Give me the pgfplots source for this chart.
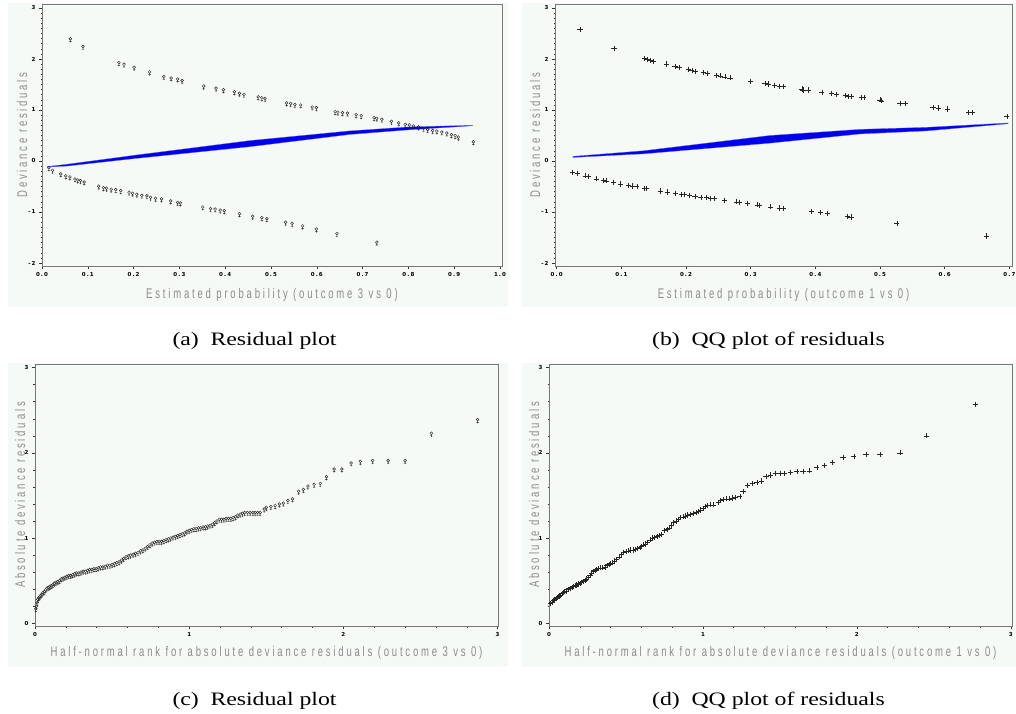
\documentclass[border=0pt]{standalone}
\usepackage{pgfplots}
\pgfplotsset{compat=1.18}
\usepackage{fontspec}
\setmainfont{Liberation Serif}
\newfontfamily\labfont[FakeStretch=0.68,LetterSpace=20]{Liberation Sans}
\newfontfamily\tickfont[LetterSpace=20]{DejaVu Sans}
\newfontfamily\capfont[FakeStretch=1.25]{Liberation Serif}
\definecolor{panelbg}{RGB}{245,250,246}
\definecolor{labgray}{RGB}{140,140,140}
\definecolor{framegray}{RGB}{120,120,120}
\definecolor{bandblue}{RGB}{0,0,235}

\pgfdeclareplotmark{venus}{%
  \pgfpathcircle{\pgfqpoint{0pt}{0.9pt}}{1.4pt}%
  \pgfpathmoveto{\pgfqpoint{0pt}{-0.5pt}}\pgfpathlineto{\pgfqpoint{0pt}{-2.8pt}}%
  \pgfpathmoveto{\pgfqpoint{-1.2pt}{-1.8pt}}\pgfpathlineto{\pgfqpoint{1.2pt}{-1.8pt}}%
  \pgfusepathqstroke}

\pgfplotsset{sasaxis/.style={
  scale only axis, anchor=south west,
  axis line style={framegray, line width=0.6pt},
  tick align=outside, tick pos=left,
  major tick length=3pt, minor tick length=1.5pt,
  every tick/.style={black!80, line width=0.5pt},
  tick label style={font=\tickfont\fontsize{5.5}{6}\selectfont\bfseries, black},
  label style={font=\labfont\fontsize{14}{16}\selectfont, labgray},
  xlabel style={at={(axis description cs:0.5,0)}, anchor=center},
  ylabel style={at={(axis description cs:0,0.5)}, anchor=center},
}}

\pgfplotstableread{
x y
0.062 2.38
0.0895 2.23
0.168 1.91
0.179 1.88
0.201 1.82
0.235 1.73
0.266 1.64
0.282 1.61
0.296 1.59
0.306 1.56
0.353 1.45
0.380 1.41
0.396 1.38
0.420 1.34
0.431 1.31
0.441 1.29
0.472 1.24
0.480 1.22
0.487 1.21
0.534 1.12
0.543 1.11
0.552 1.09
0.565 1.08
0.590 1.04
0.599 1.03
0.640 0.95
0.646 0.94
0.656 0.93
0.667 0.92
0.686 0.89
0.697 0.87
0.725 0.83
0.731 0.82
0.742 0.80
0.763 0.76
0.779 0.73
0.793 0.70
0.802 0.69
0.811 0.67
0.822 0.65
0.833 0.62
0.842 0.60
0.853 0.58
0.862 0.57
0.873 0.55
0.884 0.53
0.894 0.50
0.902 0.48
0.909 0.45
0.942 0.36
0.015 -0.15
0.023 -0.20
0.041 -0.27
0.052 -0.31
0.061 -0.33
0.072 -0.37
0.078 -0.39
0.084 -0.40
0.092 -0.43
0.124 -0.51
0.134 -0.54
0.141 -0.55
0.151 -0.57
0.161 -0.58
0.172 -0.60
0.190 -0.63
0.198 -0.65
0.207 -0.67
0.218 -0.69
0.229 -0.70
0.237 -0.73
0.248 -0.75
0.261 -0.76
0.281 -0.80
0.296 -0.83
0.302 -0.84
0.351 -0.92
0.368 -0.95
0.378 -0.96
0.389 -0.98
0.398 -0.99
0.431 -1.05
0.460 -1.10
0.480 -1.13
0.491 -1.15
0.532 -1.22
0.546 -1.24
0.569 -1.29
0.599 -1.35
0.644 -1.44
0.731 -1.61
}\resA

\pgfplotstableread{
x y
0.036 2.58
0.0886 2.21
0.136 2.01
0.140 1.99
0.145 1.97
0.150 1.95
0.170 1.90
0.183 1.86
0.189 1.84
0.204 1.80
0.209 1.78
0.214 1.76
0.227 1.73
0.233 1.72
0.247 1.68
0.253 1.67
0.260 1.65
0.268 1.63
0.300 1.56
0.322 1.52
0.327 1.51
0.337 1.48
0.344 1.46
0.350 1.46
0.379 1.41
0.381 1.39
0.389 1.39
0.410 1.35
0.425 1.32
0.433 1.31
0.446 1.28
0.451 1.27
0.456 1.27
0.471 1.24
0.475 1.24
0.500 1.20
0.502 1.18
0.531 1.13
0.539 1.13
0.582 1.05
0.590 1.04
0.604 1.02
0.637 0.95
0.643 0.95
0.696 0.87
0.024 -0.22
0.032 -0.24
0.044 -0.29
0.049 -0.30
0.061 -0.35
0.072 -0.38
0.077 -0.39
0.088 -0.42
0.099 -0.45
0.111 -0.48
0.117 -0.49
0.124 -0.50
0.136 -0.54
0.139 -0.54
0.160 -0.59
0.171 -0.61
0.184 -0.63
0.193 -0.65
0.198 -0.66
0.205 -0.67
0.214 -0.69
0.223 -0.71
0.232 -0.72
0.238 -0.73
0.244 -0.74
0.259 -0.77
0.278 -0.80
0.283 -0.81
0.295 -0.83
0.310 -0.86
0.314 -0.87
0.331 -0.90
0.344 -0.92
0.350 -0.93
0.394 -0.99
0.408 -1.01
0.419 -1.03
0.450 -1.09
0.455 -1.10
0.526 -1.22
0.665 -1.47
}\resB

\pgfplotstableread{
x y
0.005 0.16
0.010 0.19
0.014 0.23
0.018 0.27
0.024 0.29
0.031 0.30
0.038 0.32
0.045 0.33
0.052 0.35
0.060 0.36
0.068 0.38
0.077 0.40
0.086 0.41
0.095 0.42
0.105 0.43
0.115 0.44
0.125 0.46
0.136 0.47
0.147 0.48
0.158 0.49
0.170 0.51
0.182 0.52
0.194 0.53
0.206 0.54
0.218 0.55
0.231 0.55
0.244 0.56
0.257 0.57
0.270 0.58
0.284 0.58
0.298 0.59
0.312 0.60
0.326 0.60
0.340 0.61
0.354 0.62
0.368 0.62
0.382 0.63
0.396 0.63
0.410 0.64
0.425 0.65
0.440 0.65
0.455 0.66
0.470 0.67
0.485 0.67
0.500 0.68
0.515 0.69
0.530 0.70
0.545 0.71
0.560 0.73
0.575 0.75
0.590 0.77
0.605 0.78
0.620 0.79
0.636 0.80
0.652 0.81
0.668 0.82
0.684 0.84
0.700 0.85
0.715 0.87
0.730 0.89
0.745 0.91
0.760 0.93
0.775 0.94
0.790 0.95
0.805 0.95
0.820 0.95
0.835 0.96
0.850 0.97
0.865 0.98
0.880 0.99
0.895 1.00
0.910 1.01
0.925 1.02
0.940 1.03
0.955 1.04
0.970 1.05
0.985 1.07
1.000 1.08
1.015 1.09
1.030 1.10
1.045 1.10
1.060 1.11
1.075 1.11
1.090 1.12
1.105 1.12
1.120 1.13
1.135 1.14
1.150 1.15
1.165 1.17
1.180 1.19
1.195 1.21
1.210 1.21
1.225 1.21
1.240 1.22
1.255 1.22
1.270 1.22
1.285 1.23
1.300 1.24
1.315 1.26
1.330 1.27
1.345 1.28
1.360 1.29
1.378 1.29
1.395 1.29
1.413 1.29
1.428 1.29
1.443 1.29
1.460 1.29
1.486 1.33
1.500 1.35
1.530 1.36
1.557 1.37
1.585 1.39
1.610 1.40
1.640 1.43
1.670 1.45
1.710 1.54
1.740 1.56
1.770 1.60
1.810 1.62
1.850 1.63
1.890 1.71
1.940 1.80
1.990 1.80
2.050 1.87
2.110 1.89
2.190 1.90
2.290 1.90
2.400 1.90
2.570 2.22
2.870 2.38
}\resC

\pgfplotstableread{
x y
0.011 0.23
0.020 0.25
0.028 0.27
0.036 0.28
0.045 0.29
0.052 0.30
0.060 0.31
0.068 0.32
0.075 0.33
0.084 0.35
0.093 0.36
0.102 0.37
0.110 0.38
0.123 0.40
0.136 0.41
0.148 0.42
0.160 0.43
0.170 0.44
0.180 0.45
0.190 0.46
0.200 0.47
0.212 0.48
0.223 0.49
0.234 0.50
0.245 0.52
0.256 0.54
0.266 0.56
0.277 0.59
0.288 0.61
0.299 0.62
0.310 0.63
0.320 0.64
0.330 0.65
0.347 0.65
0.364 0.66
0.377 0.68
0.390 0.69
0.400 0.70
0.410 0.71
0.425 0.73
0.440 0.75
0.455 0.78
0.470 0.81
0.485 0.83
0.500 0.84
0.515 0.85
0.530 0.86
0.545 0.86
0.560 0.87
0.575 0.88
0.590 0.89
0.600 0.90
0.610 0.92
0.625 0.93
0.640 0.95
0.655 0.98
0.670 1.00
0.685 1.01
0.700 1.02
0.715 1.03
0.730 1.04
0.750 1.09
0.765 1.10
0.780 1.12
0.795 1.15
0.810 1.18
0.825 1.20
0.840 1.22
0.855 1.24
0.870 1.25
0.885 1.26
0.900 1.27
0.920 1.28
0.940 1.29
0.955 1.30
0.970 1.31
0.985 1.33
1.000 1.35
1.015 1.37
1.030 1.38
1.050 1.39
1.070 1.39
1.100 1.42
1.115 1.44
1.130 1.45
1.150 1.46
1.170 1.46
1.190 1.47
1.210 1.48
1.240 1.49
1.260 1.55
1.290 1.62
1.320 1.64
1.350 1.65
1.380 1.67
1.410 1.72
1.440 1.74
1.470 1.76
1.500 1.76
1.530 1.76
1.570 1.77
1.610 1.78
1.650 1.78
1.690 1.79
1.740 1.83
1.790 1.85
1.840 1.89
1.910 1.95
1.980 1.96
2.060 1.98
2.150 1.98
2.280 2.00
2.450 2.20
2.770 2.57
}\resD

\begin{document}
\begin{tikzpicture}[x=1pt,y=1pt]
\useasboundingbox (0,0) rectangle (1016,713);
% panel backgrounds
\fill[panelbg] (8,406) rectangle (508,710);
\fill[panelbg] (522,406) rectangle (1016,710);
\fill[panelbg] (8,46) rectangle (508,350);
\fill[panelbg] (522,46) rectangle (1016,350);

% (a)
\begin{axis}[sasaxis, at={(42pt,447pt)}, width=460pt, height=262pt,
  xmin=0, xmax=1.0044, ymin=-2.059, ymax=3.078,
  xtick={0,0.1,...,1.0}, xticklabels={0.0,0.1,0.2,0.3,0.4,0.5,0.6,0.7,0.8,0.9,1.0},
  ytick={-2,-1,0,1,2,3}, yticklabels={-2,-1,0,1,2,3},
  minor x tick num=4, minor y tick num=9,
  xlabel={Estimated probability (outcome 3 vs 0)},
  ylabel={Deviance residuals},
  xlabel style={yshift=-29pt}, ylabel style={yshift=20pt}]
\addplot[fill=bandblue, draw=blue!60, line width=0.3pt] coordinates {
 (0.011,-0.11) (0.054,-0.065) (0.2,0.11) (0.454,0.40) (0.672,0.59) (0.8,0.667) (0.94,0.70)
 (0.94,0.69) (0.8,0.61) (0.672,0.52) (0.454,0.28) (0.2,0.045) (0.054,-0.10) (0.011,-0.12)} -- cycle;
\addplot[only marks, mark=venus, black!85, line width=0.45pt] table[x=x,y=y] {\resA};
\end{axis}

% (b)
\begin{axis}[sasaxis, at={(555pt,447pt)}, width=457pt, height=262pt,
  xmin=-0.0026, xmax=0.7041, ymin=-2.059, ymax=3.078,
  xtick={0,0.1,...,0.7}, xticklabels={0.0,0.1,0.2,0.3,0.4,0.5,0.6,0.7},
  ytick={-2,-1,0,1,2,3}, yticklabels={-2,-1,0,1,2,3},
  minor x tick num=4, minor y tick num=9,
  xlabel={Estimated probability (outcome 1 vs 0)},
  ylabel={Deviance residuals},
  xlabel style={yshift=-29pt}, ylabel style={yshift=20pt}]
\addplot[fill=bandblue, draw=blue!60, line width=0.3pt] coordinates {
 (0.025,0.09) (0.134,0.20) (0.33,0.50) (0.469,0.62) (0.572,0.66) (0.698,0.745)
 (0.698,0.73) (0.572,0.59) (0.469,0.53) (0.33,0.35) (0.134,0.14) (0.025,0.07)} -- cycle;
\addplot[only marks, mark=+, mark size=2.6pt, black!85, line width=0.5pt] table[x=x,y=y] {\resB};
\end{axis}

% (c)
\begin{axis}[sasaxis, at={(35pt,87pt)}, width=463pt, height=262pt,
  xmin=0, xmax=3.0026, ymin=-0.032, ymax=3.043,
  xtick={0,1,2,3}, xticklabels={0,1,2,3},
  ytick={0,1,2,3}, yticklabels={0,1,2,3},
  minor x tick num=4, minor y tick num=4,
  xlabel={Half-normal rank for absolute deviance residuals (outcome 3 vs 0)},
  ylabel={Absolute deviance residuals},
  xlabel style={yshift=-27pt}, ylabel style={yshift=15pt}]
\addplot[only marks, mark=venus, black!85, line width=0.45pt] table[x=x,y=y] {\resC};
\end{axis}

% (d)
\begin{axis}[sasaxis, at={(549pt,87pt)}, width=463pt, height=262pt,
  xmin=0, xmax=3.008, ymin=-0.032, ymax=3.043,
  xtick={0,1,2,3}, xticklabels={0,1,2,3},
  ytick={0,1,2,3}, yticklabels={0,1,2,3},
  minor x tick num=4, minor y tick num=4,
  xlabel={Half-normal rank for absolute deviance residuals (outcome 1 vs 0)},
  ylabel={Absolute deviance residuals},
  xlabel style={yshift=-27pt}, ylabel style={yshift=15pt}]
\addplot[only marks, mark=+, mark size=2.6pt, black!85, line width=0.5pt] table[x=x,y=y] {\resD};
\end{axis}

% captions
\node[anchor=base, inner sep=0] at (254.5,368) {\capfont\fontsize{19}{22}\selectfont (a)\hspace{0.3em} Residual plot};
\node[anchor=base, inner sep=0] at (768.5,368) {\capfont\fontsize{19}{22}\selectfont (b)\hspace{0.3em} QQ plot of residuals};
\node[anchor=base, inner sep=0] at (254.5,8) {\capfont\fontsize{19}{22}\selectfont (c)\hspace{0.3em} Residual plot};
\node[anchor=base, inner sep=0] at (768.5,8) {\capfont\fontsize{19}{22}\selectfont (d)\hspace{0.3em} QQ plot of residuals};
\end{tikzpicture}
\end{document}
